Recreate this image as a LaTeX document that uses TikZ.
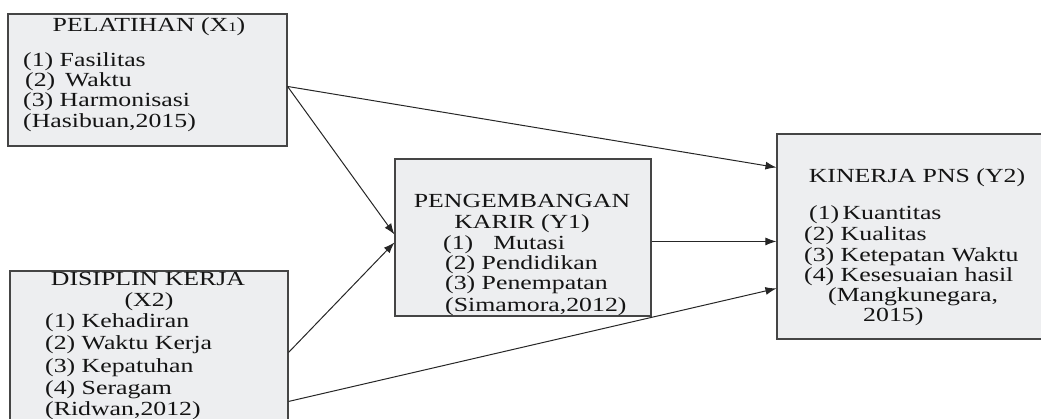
\documentclass[tikz,border=0pt]{standalone}
\usepackage{fontspec}
\setmainfont{Liberation Serif}[FakeStretch=1.29]
\usetikzlibrary{arrows.meta,calc}
\definecolor{boxfill}{HTML}{EDEEF0}
\definecolor{boxline}{HTML}{454545}
\definecolor{txt}{HTML}{141414}
\tikzset{
  varbox/.style={draw=boxline, fill=boxfill, line width=1.1pt, rectangle, inner sep=0pt},
  lbl/.style={anchor=base west, inner sep=0pt, text=txt, font=\fontsize{20}{20}\selectfont},
  ttl/.style={anchor=base, inner sep=0pt, text=txt, font=\fontsize{20}{20}\selectfont},
  conn/.style={draw=black!85, line width=1pt, -{Latex[length=11pt,width=8pt]}}
}
\begin{document}
\begin{tikzpicture}[x=1pt,y=-1pt]
\useasboundingbox (0,0) rectangle (1041,419);
\clip (0,0) rectangle (1041,419);
% boxes
\node[varbox, minimum width=279pt, minimum height=132pt] (x1) at (147.5,80) {};
\node[varbox, minimum width=278pt, minimum height=169pt] (x2) at (149,355.5) {};
\node[varbox, minimum width=256pt, minimum height=157pt] (y1) at (523,237.5) {};
\node[varbox, minimum width=283pt, minimum height=205pt] (y2) at (918.5,236.5) {};
% X1 text
\node[ttl] (x1t) at (149,32) {PELATIHAN (X{\fontsize{13}{13}\selectfont 1})};
\node[lbl] (x1a) at (23,67) {(1) Fasilitas};
\node[lbl] (x1b) at (25,87) {(2)\, Waktu};
\node[lbl] (x1c) at (23,107) {(3) Harmonisasi};
\node[lbl] (x1d) at (23,128) {(Hasibuan,2015)};
% X2 text
\node[ttl] (x2t) at (148,286) {DISIPLIN KERJA};
\node[ttl] (x2u) at (149,307) {(X2)};
\node[lbl] (x2a) at (45,328) {(1) Kehadiran};
\node[lbl] (x2b) at (45,350) {(2) Waktu Kerja};
\node[lbl] (x2c) at (45,372) {(3) Kepatuhan};
\node[lbl] (x2d) at (45,394) {(4) Seragam};
\node[lbl] (x2e) at (45,415) {(Ridwan,2012)};
% Y1 text
\node[ttl] (y1t) at (522,208) {PENGEMBANGAN};
\node[ttl] (y1u) at (522,229) {KARIR (Y1)};
\node[lbl] (y1a) at (443,250) {(1)\quad Mutasi};
\node[lbl] (y1b) at (445,270) {(2) Pendidikan};
\node[lbl] (y1c) at (445,290) {(3) Penempatan};
\node[lbl] (y1d) at (445,312) {(Simamora,2012)};
% Y2 text
\node[ttl] (y2t) at (917,183) {KINERJA PNS (Y2)};
\node[lbl] (y2a) at (809,220) {(1)\,Kuantitas};
\node[lbl] (y2b) at (804,241) {(2) Kualitas};
\node[lbl] (y2c) at (804,262) {(3) Ketepatan Waktu};
\node[lbl] (y2d) at (804,282) {(4) Kesesuaian hasil};
\node[lbl] (y2e) at (828,302) {(Mangkunegara,};
\node[lbl] (y2f) at (863,322) {2015)};
% connectors
\draw[conn] ([yshift=-73pt]x1.north east) -- ([yshift=-34pt]y2.north west);
\draw[conn] ([yshift=-73pt]x1.north east) -- ([yshift=-76pt]y1.north west);
\draw[conn] ([yshift=-82pt]x2.north east) -- ([yshift=-84pt]y1.north west);
\draw[conn] ([yshift=-83pt]y1.north east) -- ([yshift=-108pt]y2.north west);
\draw[conn] ([yshift=-131pt]x2.north east) -- ([yshift=-155pt]y2.north west);
\end{tikzpicture}
\end{document}
